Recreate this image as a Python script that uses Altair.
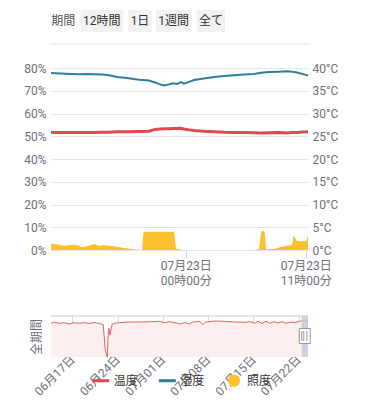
import altair as alt
import pandas as pd

FONT = "Roboto, 'Noto Sans CJK JP', sans-serif"
W = 257

# ---------------- main chart data (07/22 - 07/23) ----------------
ht_times = [
    "2024-07-22T11:39", "2024-07-22T12:34", "2024-07-22T13:29", "2024-07-22T14:13",
    "2024-07-22T14:57", "2024-07-22T15:36", "2024-07-22T16:20", "2024-07-22T16:58",
    "2024-07-22T17:42", "2024-07-22T18:37", "2024-07-22T19:43", "2024-07-22T20:38",
    "2024-07-22T21:11", "2024-07-22T21:39", "2024-07-22T22:01", "2024-07-22T22:28",
    "2024-07-22T22:50", "2024-07-22T23:12", "2024-07-22T23:34", "2024-07-22T23:51",
    "2024-07-23T00:18", "2024-07-23T00:46", "2024-07-23T01:41", "2024-07-23T02:36",
    "2024-07-23T03:31", "2024-07-23T04:26", "2024-07-23T05:21", "2024-07-23T06:16",
    "2024-07-23T06:54", "2024-07-23T07:38", "2024-07-23T08:33", "2024-07-23T09:17",
    "2024-07-23T09:45", "2024-07-23T10:12", "2024-07-23T10:45", "2024-07-23T11:13",
]
humidity = [
    77.8, 77.6, 77.4, 77.2, 77.4, 77.3, 77.1, 76.8, 76.0, 75.6, 74.8, 74.5,
    73.6, 72.8, 72.3, 72.8, 73.3, 73.0, 73.8, 73.1, 73.9, 74.7, 75.4, 76.0,
    76.5, 76.8, 77.1, 77.4, 77.9, 78.2, 78.4, 78.6, 78.4, 78.0, 77.3, 76.7,
]
temperature = [
    25.8, 25.8, 25.8, 25.8, 25.8, 25.85, 25.9, 25.9, 26.0, 26.0, 26.05, 26.1,
    26.5, 26.6, 26.65, 26.65, 26.7, 26.7, 26.75, 26.6, 26.4, 26.25, 26.1, 26.0,
    25.9, 25.85, 25.8, 25.75, 25.7, 25.75, 25.8, 25.7, 25.8, 25.85, 25.95, 26.0,
]
illum_times = [
    "2024-07-22T11:39", "2024-07-22T12:23", "2024-07-22T12:51", "2024-07-22T13:18",
    "2024-07-22T13:46", "2024-07-22T14:13", "2024-07-22T14:24", "2024-07-22T14:52",
    "2024-07-22T15:36", "2024-07-22T16:03", "2024-07-22T16:31", "2024-07-22T16:58",
    "2024-07-22T17:37", "2024-07-22T18:21", "2024-07-22T19:16", "2024-07-22T20:00",
    "2024-07-22T20:08", "2024-07-22T20:20", "2024-07-22T22:56", "2024-07-22T23:07",
    "2024-07-22T23:23", "2024-07-22T23:40", "2024-07-23T06:16", "2024-07-23T06:43",
    "2024-07-23T06:56", "2024-07-23T07:14", "2024-07-23T07:22", "2024-07-23T08:06",
    "2024-07-23T08:50", "2024-07-23T09:28", "2024-07-23T09:45", "2024-07-23T09:53",
    "2024-07-23T10:01", "2024-07-23T10:12", "2024-07-23T10:40", "2024-07-23T11:03",
    "2024-07-23T11:13",
]
illuminance = [
    2.9, 2.3, 1.9, 2.1, 2.3, 2.0, 1.2, 1.5, 2.6, 1.9, 2.1, 1.9,
    1.5, 0.9, 0.3, 0.0, 7.9, 8.0, 8.0, 0.6, 0.4, 0.0, 0.0, 0.4,
    8.4, 8.2, 0.3, 0.4, 1.5, 2.0, 2.2, 6.4, 5.5, 4.0, 3.8, 3.8,
    6.6,
]

# ---------------- overview (slider) data ----------------
slider_times = [
    "2024-06-13T16:29", "2024-06-14T03:42", "2024-06-14T22:22", "2024-06-15T17:01",
    "2024-06-16T11:41", "2024-06-17T06:20", "2024-06-18T01:00", "2024-06-18T19:40",
    "2024-06-19T14:20", "2024-06-20T09:00", "2024-06-21T03:39", "2024-06-21T18:35",
    "2024-06-22T02:03", "2024-06-22T09:31", "2024-06-22T13:15", "2024-06-22T15:07",
    "2024-06-22T19:36", "2024-06-23T00:27", "2024-06-23T04:10", "2024-06-23T11:38",
    "2024-06-24T06:18", "2024-06-25T19:38", "2024-06-27T08:57", "2024-06-28T22:16",
    "2024-06-30T11:37", "2024-07-01T06:16", "2024-07-02T00:56", "2024-07-03T06:48",
    "2024-07-03T14:16", "2024-07-04T08:56", "2024-07-05T03:35", "2024-07-05T14:47",
    "2024-07-06T16:55", "2024-07-07T04:06", "2024-07-07T15:18", "2024-07-09T00:53",
    "2024-07-10T14:14", "2024-07-12T03:33", "2024-07-13T16:52", "2024-07-14T11:33",
    "2024-07-15T06:12", "2024-07-15T17:24", "2024-07-16T08:20", "2024-07-16T23:15",
    "2024-07-17T14:11", "2024-07-18T05:07", "2024-07-18T20:02", "2024-07-19T10:58",
    "2024-07-20T01:54", "2024-07-20T16:49", "2024-07-21T11:28", "2024-07-22T06:09",
    "2024-07-23T00:48", "2024-07-23T11:13",
]
slider_temp = [
    25.27, 25.67, 25.27, 25.47, 25.06, 25.47, 25.27, 25.47, 25.27, 25.47, 25.27, 24.86,
    17.1, 15.0, 22.3, 23.8, 21.7, 23.8, 25.06, 25.27, 25.47, 25.67, 25.67, 25.77,
    25.88, 25.47, 25.77, 25.27, 25.06, 25.47, 25.06, 25.67, 25.88, 24.86, 25.67, 25.97,
    25.88, 25.67, 25.57, 25.77, 25.27, 25.88, 25.27, 25.88, 25.27, 25.77, 25.37, 25.77,
    25.27, 25.67, 25.47, 25.97, 26.08, 25.97,
]
window_start = ["2024-07-22T11:39"]
window_end = ["2024-07-23T11:13"]
window_mid = ["2024-07-22T23:26"]

buttons = ["12時間", "1日", "1週間", "全て"]
legend_items = ["温度", "湿度", "照度"]
legend_colors = ["#e04a4a", "#2f7f99", "#fcc22e"]

# ---------------- layout helpers (pixel positions of UI widgets) ----------------
btn_x0 = [29.7, 77.3, 105.0, 146.0]
btn_x1 = [72.0, 100.7, 140.3, 174.0]

LABEL_COLOR = "#6e7079"
GRID = "#e0e6f1"


def dt(y, m, d, h=0, mi=0):
    return alt.DateTime(year=y, month=m, date=d, hours=h, minutes=mi)


# ---------------- top buttons panel ----------------
btn_df = pd.DataFrame({"label": buttons, "x0": btn_x0, "x1": btn_x1})
btn_df["xc"] = (btn_df["x0"] + btn_df["x1"]) / 2
px = alt.Scale(domain=[0, W], range=[0, W])
boxes = alt.Chart(btn_df).mark_rect(color="#f2f2f2").encode(
    x=alt.X("x0:Q", scale=px, axis=None), x2="x1:Q",
    y=alt.value(2), y2=alt.value(24))
btn_text = alt.Chart(btn_df).mark_text(fontSize=12, color="#333333", baseline="middle").encode(
    x=alt.X("xc:Q", scale=px, axis=None), y=alt.value(13), text="label:N")
period = alt.Chart(pd.DataFrame({"t": ["期間"], "x": [0.3]})).mark_text(
    fontSize=12, color="#555555", align="left", baseline="middle").encode(
    x=alt.X("x:Q", scale=px, axis=None), y=alt.value(13), text="t:N")
sep = alt.Chart(pd.DataFrame({"a": [0]})).mark_rule(color="#ececec", strokeWidth=1.5).encode(
    x=alt.value(0), x2=alt.value(W + 1), y=alt.value(36))
top_panel = alt.layer(boxes, btn_text, period, sep).properties(width=W, height=60)

# ---------------- main chart ----------------
main_df = pd.DataFrame({"time": ht_times, "hum": humidity, "temp": temperature})
illum_df = pd.DataFrame({"time": illum_times, "illum": illuminance})

x_axis = alt.Axis(
    values=[dt(2024, 7, 23, 0), dt(2024, 7, 23, 11)],
    labelExpr="[timeFormat(datum.value, '%m月%d日'), timeFormat(datum.value, '%H時%M分')]",
    title=None, grid=False, domain=True, domainColor=GRID, ticks=True, tickColor="#d0d4dc",
    tickSize=8, labelPadding=2, labelFontSize=12, labelColor=LABEL_COLOR,
    labelLineHeight=15, labelBaseline="top", labelFont=FONT)
x_main = alt.X("time:T", scale=alt.Scale(domain=[dt(2024, 7, 22, 11, 39), dt(2024, 7, 23, 11, 13)]),
               axis=x_axis)

left_axis = alt.Axis(values=list(range(0, 81, 10)), labelExpr="datum.value + '%'", title=None,
                     grid=True, gridColor=GRID, domain=False, ticks=False, labelPadding=5,
                     labelFontSize=12, labelColor=LABEL_COLOR, labelFont=FONT)
right_axis = alt.Axis(values=list(range(0, 41, 5)), labelExpr="datum.value + '°C'", title=None,
                      orient="right", grid=False, domain=False, ticks=False, labelPadding=4,
                      labelFontSize=12, labelColor=LABEL_COLOR, labelFont=FONT)
left_scale = alt.Scale(domain=[0, 80], nice=False, zero=True)

illum_area = alt.Chart(illum_df).mark_area(color="#fcc22e", opacity=1, interpolate="linear").encode(
    x=x_main, y=alt.Y("illum:Q", scale=left_scale, axis=left_axis))
hum_line = alt.Chart(main_df).mark_line(color="#2f7f99", strokeWidth=2).encode(
    x=x_main, y=alt.Y("hum:Q", scale=left_scale, axis=left_axis))
temp_line = alt.Chart(main_df).mark_line(color="#e04a4a", strokeWidth=3).encode(
    x=x_main, y=alt.Y("temp:Q", scale=alt.Scale(domain=[0, 40], nice=False), axis=right_axis))

main_panel = alt.layer(alt.layer(illum_area, hum_line), temp_line).resolve_scale(
    y="independent").properties(width=W, height=182)

spacer = alt.Chart(pd.DataFrame({"a": [0]})).mark_point(opacity=0).encode(
    x=alt.value(0), y=alt.value(0)).properties(width=W, height=66)

# ---------------- slider / overview ----------------
slider_df = pd.DataFrame({"time": slider_times, "temp": slider_temp})
win_df = pd.DataFrame({"time": window_start, "end": window_end, "mid": window_mid})

s_axis = alt.Axis(values=[dt(2024, 6, 17), dt(2024, 6, 24), dt(2024, 7, 1), dt(2024, 7, 8),
                          dt(2024, 7, 15), dt(2024, 7, 22)],
                  format="%m月%d日", labelAngle=-45, labelAlign="right", labelBaseline="middle",
                  grid=True, gridColor="#dddddd", domain=False, ticks=False, title=None,
                  labelColor=LABEL_COLOR, labelFontSize=12, labelPadding=0, labelFont=FONT)
s_scale = alt.Scale(domain=[dt(2024, 6, 13, 16, 29), dt(2024, 7, 23, 11, 13)])
xs = alt.X("time:T", scale=s_scale, axis=s_axis)
ys = alt.Y("temp:Q", scale=alt.Scale(domain=[15, 27.5], nice=False, zero=False),
           axis=alt.Axis(labels=False, ticks=False, domain=False, grid=False, title="全期間",
                         titleFontSize=12, titleColor=LABEL_COLOR, titleFontWeight="normal",
                         titlePadding=8, titleFont=FONT))

s_area = alt.Chart(slider_df).mark_area(color="#fcefef", clip=True).encode(x=xs, y=ys)
s_line = alt.Chart(slider_df).mark_line(color="#e06464", strokeWidth=1, clip=True).encode(x=xs, y=ys)
s_top = alt.Chart(pd.DataFrame({"a": [0]})).mark_rule(color="#c8cdd6").encode(
    x=alt.value(0), x2=alt.value(W), y=alt.value(0))
s_win = alt.Chart(win_df).mark_rect(color="#c3cbe0", opacity=0.85).encode(
    x=xs, x2="end:T", y=alt.value(0), y2=alt.value(41))
s_handle = alt.Chart(win_df).mark_rect(width=11, height=15, fill="white", stroke="#9a9a9a",
                                       strokeWidth=1).encode(
    x=alt.X("mid:T", scale=s_scale, axis=s_axis), y=alt.value(20))
handle_bars = [
    alt.Chart(win_df).mark_rule(color="#9a9a9a", strokeWidth=1, xOffset=o).encode(
        x=alt.X("mid:T", scale=s_scale, axis=s_axis), y=alt.value(15), y2=alt.value(25))
    for o in (-3, -1, 2)
]
slider_panel = alt.layer(s_area, s_line, s_top, s_win, s_handle, *handle_bars).properties(
    width=W, height=41)

# ---------------- legend ----------------
leg_df = pd.DataFrame({"item": legend_items})
lx = alt.X("item:N", scale=alt.Scale(type="point", domain=legend_items, range=[49.7, 183],
                                     padding=0), axis=None)
lc = alt.Color("item:N", scale=alt.Scale(domain=legend_items, range=legend_colors), legend=None)
leg_lines = alt.Chart(leg_df).transform_filter(alt.datum.item != "照度").mark_point(
    shape="stroke", size=289, strokeWidth=3, filled=False, opacity=1).encode(
    x=lx, y=alt.value(23.7), stroke=lc)
leg_dot = alt.Chart(leg_df).transform_filter(alt.datum.item == "照度").mark_point(
    shape="circle", size=150, filled=True, opacity=1).encode(x=lx, y=alt.value(23.7), fill=lc)
leg_text = alt.Chart(leg_df).mark_text(align="left", dx=13, fontSize=12, color="#333333",
                                       baseline="middle").encode(
    x=lx, y=alt.value(24), text="item:N")
legend_panel = alt.layer(leg_lines, leg_dot, leg_text).properties(width=W, height=30)

chart = alt.vconcat(top_panel, main_panel, spacer, slider_panel, legend_panel,
                    spacing=0, bounds="flush").properties(
    padding={"left": 15, "top": 0, "right": 0, "bottom": 0},
    background="white",
).configure(font=FONT).configure_view(strokeWidth=0, stroke="transparent").configure_text(font=FONT)

chart.save("out.html", embed_options={"renderer": "svg", "actions": False})
